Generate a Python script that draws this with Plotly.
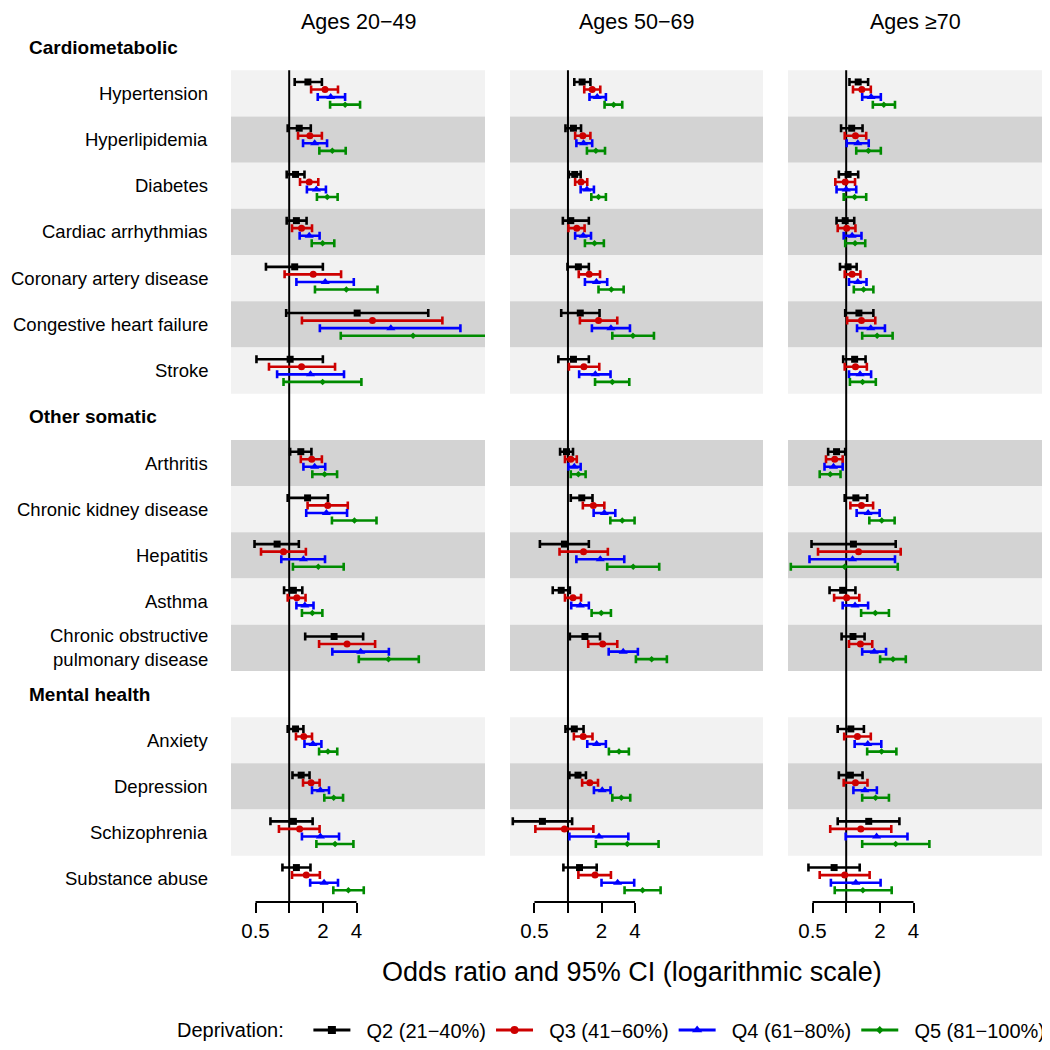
import plotly.graph_objects as go

# ---------------- data ----------------
age_groups = ["Ages 20\u221249", "Ages 50\u221269", "Ages \u226570"]
quintiles = ["Q2 (21\u221240%)", "Q3 (41\u221260%)", "Q4 (61\u221280%)", "Q5 (81\u2212100%)"]
legend_title = "Deprivation:"

group_names = ["Cardiometabolic", "Other somatic", "Mental health"]
cardiometabolic = ["Hypertension", "Hyperlipidemia", "Diabetes", "Cardiac arrhythmias",
                   "Coronary artery disease", "Congestive heart failure", "Stroke"]
other_somatic = ["Arthritis", "Chronic kidney disease", "Hepatitis", "Asthma",
                 "Chronic obstructive<br>pulmonary disease"]
mental_health = ["Anxiety", "Depression", "Schizophrenia", "Substance abuse"]

x_tickvals = [0.5, 1, 2, 4]
x_ticktext = ["0.5", "", "2", "4"]
x_title = "Odds ratio and 95% CI (logarithmic scale)"

# (lower, estimate, upper) per condition, in row order
or_2049_q2 = [(1.12, 1.47, 1.96), (0.97, 1.23, 1.56), (0.95, 1.14, 1.37), (0.95, 1.16, 1.43),
              (0.62, 1.12, 2.00), (0.94, 4.05, 17.5), (0.51, 1.02, 2.00), (1.02, 1.27, 1.58),
              (0.97, 1.46, 2.22), (0.49, 0.78, 1.22), (0.90, 1.09, 1.31), (1.39, 2.52, 4.58),
              (0.97, 1.14, 1.34), (1.07, 1.28, 1.52), (0.68, 1.09, 1.62), (0.87, 1.16, 1.55)]
or_2049_q3 = [(1.57, 2.09, 2.73), (1.20, 1.53, 1.96), (1.25, 1.51, 1.82), (1.06, 1.29, 1.60),
              (0.91, 1.64, 2.91), (1.30, 5.55, 23.4), (0.66, 1.29, 2.57), (1.27, 1.59, 1.96),
              (1.46, 2.21, 3.34), (0.56, 0.89, 1.41), (0.97, 1.17, 1.40), (1.85, 3.29, 5.86),
              (1.15, 1.35, 1.60), (1.33, 1.57, 1.87), (0.81, 1.24, 1.87), (1.06, 1.42, 1.88)]
or_2049_q4 = [(1.80, 2.35, 3.16), (1.33, 1.69, 2.18), (1.44, 1.75, 2.13), (1.24, 1.51, 1.87),
              (1.16, 2.10, 3.78), (1.88, 8.10, 33.9), (0.78, 1.55, 3.09), (1.34, 1.69, 2.10),
              (1.42, 2.15, 3.29), (0.85, 1.34, 2.09), (1.16, 1.38, 1.65), (2.43, 4.36, 7.78),
              (1.37, 1.63, 1.94), (1.60, 1.90, 2.27), (1.30, 1.90, 2.79), (1.54, 2.05, 2.73)]
or_2049_q5 = [(2.32, 3.16, 4.30), (1.86, 2.43, 3.20), (1.77, 2.19, 2.71), (1.59, 1.99, 2.53),
              (1.70, 3.24, 6.16), (2.89, 12.8, 60.0), (0.89, 1.99, 4.42), (1.61, 2.07, 2.68),
              (2.41, 3.83, 6.03), (1.08, 1.82, 3.07), (1.30, 1.61, 1.98), (4.19, 7.72, 14.4),
              (1.85, 2.22, 2.69), (2.06, 2.50, 3.03), (1.75, 2.57, 3.75), (2.48, 3.38, 4.64)]

or_5069_q2 = [(1.14, 1.34, 1.59), (0.95, 1.12, 1.31), (1.02, 1.15, 1.30), (0.90, 1.06, 1.54),
              (0.99, 1.24, 1.54), (0.87, 1.29, 1.92), (0.82, 1.12, 1.54), (0.85, 0.97, 1.11),
              (1.06, 1.33, 1.66), (0.56, 0.93, 1.54), (0.73, 0.87, 1.04), (1.04, 1.42, 1.94),
              (0.95, 1.14, 1.38), (1.03, 1.23, 1.45), (0.32, 0.59, 1.09), (0.91, 1.27, 1.81)]
or_5069_q3 = [(1.40, 1.65, 1.95), (1.16, 1.36, 1.59), (1.16, 1.31, 1.49), (1.01, 1.20, 1.41),
              (1.25, 1.55, 1.94), (1.28, 1.88, 2.77), (1.02, 1.39, 1.91), (0.94, 1.06, 1.20),
              (1.36, 1.69, 2.12), (0.84, 1.38, 2.28), (0.94, 1.11, 1.31), (1.52, 2.05, 2.77),
              (1.13, 1.37, 1.66), (1.34, 1.57, 1.86), (0.51, 0.93, 1.69), (1.24, 1.75, 2.43)]
or_5069_q4 = [(1.56, 1.83, 2.19), (1.19, 1.38, 1.65), (1.30, 1.48, 1.71), (1.16, 1.37, 1.61),
              (1.42, 1.80, 2.25), (1.64, 2.43, 3.60), (1.26, 1.76, 2.41), (1.01, 1.14, 1.30),
              (1.70, 2.12, 2.66), (1.19, 1.95, 3.20), (1.07, 1.29, 1.54), (2.32, 3.13, 4.24),
              (1.49, 1.81, 2.19), (1.71, 2.03, 2.41), (1.03, 1.90, 3.48), (2.00, 2.79, 3.93)]
or_5069_q5 = [(2.13, 2.57, 3.07), (1.48, 1.78, 2.15), (1.62, 1.88, 2.19), (1.42, 1.73, 2.10),
              (1.88, 2.45, 3.16), (2.50, 3.83, 5.91), (1.75, 2.50, 3.55), (1.06, 1.24, 1.44),
              (2.40, 3.07, 3.96), (2.25, 3.85, 6.59), (1.63, 1.99, 2.43), (4.07, 5.63, 7.72),
              (2.33, 2.87, 3.52), (2.50, 3.01, 3.62), (1.78, 3.41, 6.50), (3.22, 4.67, 6.78)]

or_70_q2 = [(1.07, 1.28, 1.57), (0.90, 1.12, 1.40), (0.86, 1.04, 1.28), (0.82, 0.98, 1.18),
            (0.88, 1.04, 1.24), (0.98, 1.30, 1.75), (0.94, 1.19, 1.49), (0.69, 0.82, 0.98),
            (0.97, 1.22, 1.54), (0.49, 1.16, 2.77), (0.71, 0.93, 1.21), (0.91, 1.15, 1.46),
            (0.84, 1.10, 1.44), (0.86, 1.09, 1.40), (0.84, 1.59, 2.99), (0.46, 0.78, 1.32)]
or_70_q3 = [(1.15, 1.38, 1.66), (0.97, 1.21, 1.51), (0.80, 0.98, 1.20), (0.84, 1.01, 1.21),
            (0.97, 1.13, 1.34), (1.02, 1.37, 1.82), (0.97, 1.21, 1.53), (0.66, 0.79, 0.93),
            (1.09, 1.37, 1.74), (0.56, 1.29, 3.07), (0.78, 1.01, 1.31), (1.06, 1.34, 1.71),
            (0.96, 1.26, 1.66), (0.95, 1.21, 1.55), (0.72, 1.35, 2.53), (0.58, 0.97, 1.62)]
or_70_q4 = [(1.39, 1.67, 2.04), (1.01, 1.27, 1.59), (0.82, 1.00, 1.23), (0.95, 1.13, 1.37),
            (1.06, 1.27, 1.52), (1.25, 1.66, 2.22), (1.06, 1.33, 1.67), (0.64, 0.77, 0.93),
            (1.24, 1.57, 1.99), (0.47, 1.14, 2.73), (0.93, 1.20, 1.57), (1.39, 1.78, 2.27),
            (1.19, 1.56, 2.06), (1.16, 1.47, 1.88), (0.99, 1.87, 3.53), (0.73, 1.22, 2.03)]
or_70_q5 = [(1.73, 2.17, 2.73), (1.23, 1.58, 2.04), (0.95, 1.19, 1.51), (0.98, 1.20, 1.48),
            (1.17, 1.43, 1.75), (1.39, 1.89, 2.60), (1.08, 1.40, 1.84), (0.58, 0.72, 0.89),
            (1.61, 2.08, 2.71), (0.32, 0.97, 2.89), (1.36, 1.82, 2.41), (2.01, 2.62, 3.41),
            (1.54, 2.07, 2.81), (1.39, 1.83, 2.41), (1.39, 2.77, 5.54), (0.79, 1.41, 2.55)]

panel_data = [
    [or_2049_q2, or_2049_q3, or_2049_q4, or_2049_q5],
    [or_5069_q2, or_5069_q3, or_5069_q4, or_5069_q5],
    [or_70_q2, or_70_q3, or_70_q4, or_70_q5],
]

# ---------------- styles ----------------
FONT = "Liberation Sans, Arial, Helvetica, sans-serif"
colors = ["#000000", "#cd0000", "#0000ff", "#008b00"]
symbols = ["square", "circle", "triangle-up", "diamond"]
msizes = [7, 7, 8, 5]
offsets = [-0.245, -0.082, 0.082, 0.245]
band_light = "#f2f2f2"
band_dark = "#d3d3d3"
NBSP = "\u00a0"

OFF = 8                      # page body margin of the browser
W, H = 1050 - OFF, 1050 - OFF
PLOT_TOP, PLOT_BOTTOM = 24 - OFF, 902 - OFF
M_T, M_B = PLOT_TOP, H - PLOT_BOTTOM
PLOT_H = PLOT_BOTTOM - PLOT_TOP
domains_px = [(231, 485), (510, 763), (788, 1042)]
x_range = [-0.52, 1.75]


def px_x(px):
    return (px - OFF) / W


def px_y(py):
    return (PLOT_BOTTOM - (py - OFF)) / PLOT_H


# ---------------- slot layout ----------------
groups = [cardiometabolic, other_somatic, mental_health]
header_slots = []
row_slots = []
row_labels = []
slot = 0
for g in groups:
    header_slots.append(slot)
    slot += 1
    for name in g:
        row_slots.append(slot)
        row_labels.append(name)
        slot += 1
n_slots = slot

fig = go.Figure()

shapes = []
annotations = []

for p in range(3):
    xa = "x" if p == 0 else f"x{p+1}"
    ya = "y" if p == 0 else f"y{p+1}"
    # background bands
    for i, s in enumerate(row_slots):
        if i == len(row_slots) - 1:
            continue
        shapes.append(dict(type="rect", xref=f"{xa} domain", yref=ya, x0=0, x1=1,
                           y0=s - 0.5, y1=s + 0.5, fillcolor=band_light if i % 2 == 0 else band_dark,
                           line=dict(width=0), layer="below"))
    # reference line at OR = 1
    shapes.append(dict(type="line", xref=xa, yref=ya, x0=1, x1=1,
                       y0=row_slots[0] - 0.5, y1=n_slots - 0.5,
                       line=dict(color="black", width=2), layer="below"))
    # bottom axis line from first to last tick
    shapes.append(dict(type="line", xref=xa, yref=f"{ya} domain", x0=x_tickvals[0], x1=x_tickvals[-1],
                       y0=0, y1=0, line=dict(color="black", width=2)))

    for q in range(4):
        data = panel_data[p][q]
        lo = [d[0] for d in data]
        est = [d[1] for d in data]
        hi = [d[2] for d in data]
        fig.add_trace(go.Scatter(
            x=est, y=[s + offsets[q] for s in row_slots],
            mode="markers", xaxis=xa, yaxis=ya, showlegend=False,
            name=quintiles[q],
            marker=dict(symbol=symbols[q], color=colors[q], size=msizes[q], line=dict(width=0)),
            error_x=dict(type="data", symmetric=False,
                         array=[h - e for h, e in zip(hi, est)],
                         arrayminus=[e - l for e, l in zip(est, lo)],
                         color=colors[q], thickness=2.6, width=4),
        ))

    d0, d1 = domains_px[p]
    annotations.append(dict(text=age_groups[p], xref="paper", yref="paper",
                            x=px_x((d0 + d1) / 2), y=px_y(22), xanchor="center", yanchor="middle",
                            showarrow=False, font=dict(size=21.5, color="black", family=FONT)))

# legend-only traces
for q in range(4):
    fig.add_trace(go.Scatter(x=[None], y=[None], mode="lines+markers", name=NBSP * 2 + quintiles[q],
                             line=dict(color=colors[q], width=3),
                             marker=dict(symbol=symbols[q], color=colors[q], size=msizes[q] + 1),
                             showlegend=True))

# row and group labels
for s, lab in zip(row_slots, row_labels):
    annotations.append(dict(text=lab, xref="paper", yref="y", x=px_x(210), y=s,
                            xanchor="right", yanchor="middle", align="right", showarrow=False,
                            font=dict(size=18.5, color="black", family=FONT)))
for s, gname in zip(header_slots, group_names):
    annotations.append(dict(text=f"<b>{gname}</b>", xref="paper", yref="y", x=px_x(27), y=s,
                            xanchor="left", yanchor="middle", showarrow=False,
                            font=dict(size=19, color="black", family=FONT)))

annotations.append(dict(text=x_title, xref="paper", yref="paper", x=px_x(632), y=px_y(972),
                        xanchor="center", yanchor="middle", showarrow=False,
                        font=dict(size=27, color="black", family=FONT)))

layout = dict(
    width=W, height=H,
    margin=dict(l=0, r=0, t=M_T, b=M_B, autoexpand=False),
    plot_bgcolor="white", paper_bgcolor="white",
    font=dict(family=FONT, color="black"),
    shapes=shapes, annotations=annotations,
    showlegend=True,
    legend=dict(orientation="h", x=px_x(175), xanchor="left", y=px_y(1030), yanchor="middle",
                title=dict(text=legend_title + NBSP * 3, side="left", font=dict(size=20)),
                font=dict(size=20, family=FONT), itemwidth=37, traceorder="normal",
                bgcolor="rgba(0,0,0,0)"),
)
for p in range(3):
    sfx = "" if p == 0 else str(p + 1)
    d0, d1 = domains_px[p]
    layout[f"xaxis{sfx}"] = dict(type="log", range=x_range, domain=[px_x(d0), px_x(d1)],
                                 anchor=f"y{sfx}", tickvals=x_tickvals, ticktext=x_ticktext,
                                 ticks="outside", ticklen=10, tickwidth=2, tickcolor="black",
                                 showline=False, showgrid=False, zeroline=False,
                                 tickfont=dict(size=20.5, color="black", family=FONT))
    layout[f"yaxis{sfx}"] = dict(range=[n_slots - 0.5, -0.5], domain=[0, 1], anchor=f"x{sfx}",
                                 visible=False, showgrid=False, zeroline=False)
fig.update_layout(**layout)

fig.write_html("out.html")
